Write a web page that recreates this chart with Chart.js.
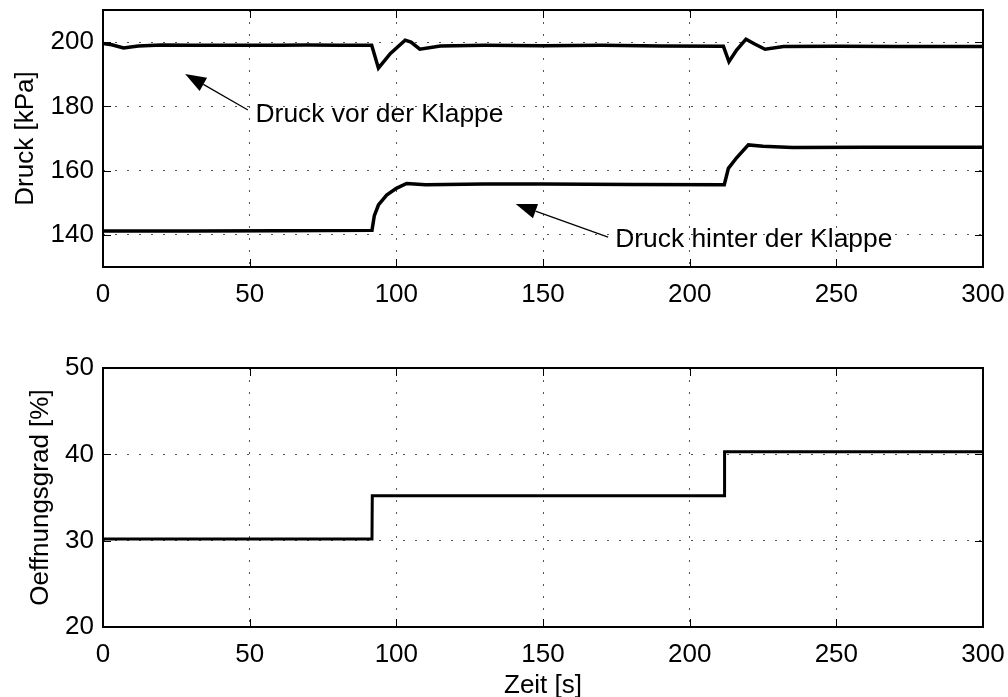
<!DOCTYPE html>
<html>
<head>
<meta charset="utf-8">
<title>Druck und Oeffnungsgrad</title>
<script src="https://cdn.jsdelivr.net/npm/chart.js@4.4.1/dist/chart.umd.min.js"></script>
<style>
  html, body { margin: 0; padding: 0; background: #fff; }
  #wrap { position: relative; width: 1008px; height: 697px; }
  #druck-box { position: absolute; left: 0; top: 0; width: 1008px; height: 320px; }
  #grad-box { position: absolute; left: 0; top: 320px; width: 1008px; height: 377px; }
</style>
</head>
<body>
<div id="wrap">
  <div id="druck-box"><canvas id="druck-chart"></canvas></div>
  <div id="grad-box"><canvas id="grad-chart"></canvas></div>
</div>
<script>
// Messwerte (Zeit in s)
const vorZeit   = [0, 3, 7, 12, 20, 30, 40, 50, 60, 70, 80, 91.6, 93.9, 98, 103, 105, 108, 115, 130, 150, 170, 190, 211.5, 213.4, 216, 219.2, 222, 225.7, 232, 250, 270, 300];
const vorDruck  = [199.6, 199.2, 198.2, 198.8, 199.1, 199, 199, 199, 199, 199.1, 199, 199, 191.9, 196.5, 200.6, 200, 197.8, 198.8, 199, 198.9, 199, 198.8, 198.7, 193.9, 197.5, 200.9, 199.5, 197.8, 198.6, 198.7, 198.6, 198.6];

const hinterZeit  = [0, 30, 60, 91.7, 92.5, 93.9, 96.7, 100, 103.5, 110, 130, 150, 180, 211.8, 213.2, 216, 220, 225, 235, 260, 300];
const hinterDruck = [141.2, 141.2, 141.3, 141.4, 146, 149.3, 152.4, 154.5, 156, 155.6, 155.8, 155.8, 155.7, 155.6, 160.7, 164, 168, 167.6, 167.2, 167.3, 167.3];

const gradZeit = [0, 91.7, 91.8, 211.8, 211.9, 300];
const gradWert = [30.2, 30.2, 35.2, 35.2, 40.3, 40.3];

// Achsenteilung
const zeitTicks  = [0, 50, 100, 150, 200, 250, 300];
const druckTicks = [140, 160, 180, 200];
const gradTicks  = [20, 30, 40, 50];

// Beschriftungen mit Pfeil: Text-Position und Pfeilspitze in Datenkoordinaten
const pfeile = [
  { text: 'Druck vor der Klappe',    textX: 52, textY: 177.3, von: [49.4, 178.9], nach: [28, 190.1] },
  { text: 'Druck hinter der Klappe', textX: 174.6, textY: 138.4, von: [172.2, 139.3], nach: [140.7, 149.6] }
];

const schrift = '"Liberation Sans", Arial, Helvetica, sans-serif';
Chart.defaults.font.family = schrift;
Chart.defaults.font.size = 26;
Chart.defaults.color = '#000';

function punkte(xs, ys) {
  return xs.map((x, i) => ({ x: x, y: ys[i] }));
}

// Rahmen um die Achsen mit Ticks nach innen (oben/unten/links/rechts)
const rahmen = {
  id: 'rahmen',
  afterDatasetsDraw(chart) {
    const { ctx, chartArea: a, scales } = chart;
    const len = 8;
    ctx.save();
    ctx.strokeStyle = '#000';
    ctx.lineWidth = 1;
    ctx.beginPath();
    scales.x.ticks.forEach(t => {
      const px = Math.round(scales.x.getPixelForValue(t.value)) + 0.5;
      ctx.moveTo(px, a.bottom); ctx.lineTo(px, a.bottom - len);
      ctx.moveTo(px, a.top); ctx.lineTo(px, a.top + len);
    });
    scales.y.ticks.forEach(t => {
      const py = Math.round(scales.y.getPixelForValue(t.value)) + 0.5;
      ctx.moveTo(a.left, py); ctx.lineTo(a.left + len, py);
      ctx.moveTo(a.right, py); ctx.lineTo(a.right - len, py);
    });
    ctx.stroke();
    ctx.lineWidth = 2;
    ctx.strokeRect(a.left, a.top, a.right - a.left, a.bottom - a.top);
    ctx.restore();
  }
};

// Textbeschriftungen mit Pfeilen im Druckdiagramm
const beschriftung = {
  id: 'beschriftung',
  afterDatasetsDraw(chart) {
    const { ctx, scales } = chart;
    ctx.save();
    pfeile.forEach(p => {
      const x0 = scales.x.getPixelForValue(p.von[0]);
      const y0 = scales.y.getPixelForValue(p.von[1]);
      const x1 = scales.x.getPixelForValue(p.nach[0]);
      const y1 = scales.y.getPixelForValue(p.nach[1]);
      const w = Math.atan2(y1 - y0, x1 - x0);
      const kopf = 21, breite = 7.5;
      const bx = x1 - kopf * Math.cos(w), by = y1 - kopf * Math.sin(w);
      ctx.strokeStyle = '#000';
      ctx.lineWidth = 1.2;
      ctx.beginPath();
      ctx.moveTo(x0, y0);
      ctx.lineTo(bx, by);
      ctx.stroke();
      ctx.fillStyle = '#000';
      ctx.beginPath();
      ctx.moveTo(x1, y1);
      ctx.lineTo(bx + breite * Math.sin(w), by - breite * Math.cos(w));
      ctx.lineTo(bx - breite * Math.sin(w), by + breite * Math.cos(w));
      ctx.closePath();
      ctx.fill();
      ctx.font = '26.4px ' + schrift;
      ctx.textAlign = 'left';
      ctx.textBaseline = 'middle';
      ctx.fillText(p.text, scales.x.getPixelForValue(p.textX), scales.y.getPixelForValue(p.textY));
    });
    ctx.restore();
  }
};

function xAchse(hoehe, titel) {
  return {
    type: 'linear',
    min: 0,
    max: 300,
    afterBuildTicks: s => { s.ticks = zeitTicks.map(v => ({ value: v })); },
    afterFit: s => { s.height = hoehe; s.paddingLeft = 0; s.paddingRight = 0; },
    ticks: { padding: 12, maxRotation: 0, autoSkip: false },
    grid: { color: '#555', drawTicks: false, lineWidth: 1 },
    border: { display: false, dash: [2, 10] },
    title: titel ? { display: true, text: titel, padding: { top: 0, bottom: -4 } } : { display: false }
  };
}

function yAchse(min, max, werte, titel, abstand) {
  return {
    min: min,
    max: max,
    afterBuildTicks: s => { s.ticks = werte.map(v => ({ value: v })); },
    afterFit: s => { s.width = 103; s.paddingTop = 0; s.paddingBottom = 0; },
    ticks: { padding: 9, autoSkip: false },
    grid: { color: '#555', drawTicks: false, lineWidth: 1 },
    border: { display: false, dash: [2, 10] },
    title: { display: true, text: titel, padding: { top: abstand, bottom: 0 } }
  };
}

new Chart(document.getElementById('druck-chart'), {
  type: 'line',
  data: {
    datasets: [
      { label: 'Druck vor der Klappe', data: punkte(vorZeit, vorDruck), borderColor: '#000', borderWidth: 3.5, pointRadius: 0, tension: 0 },
      { label: 'Druck hinter der Klappe', data: punkte(hinterZeit, hinterDruck), borderColor: '#000', borderWidth: 3.5, pointRadius: 0, tension: 0 }
    ]
  },
  options: {
    responsive: true,
    maintainAspectRatio: false,
    animation: false,
    layout: { padding: { top: 10, right: 25, left: 0, bottom: 0 } },
    plugins: { legend: { display: false }, tooltip: { enabled: false } },
    scales: {
      x: xAchse(53, null),
      y: yAchse(130, 210, druckTicks, 'Druck [kPa]', 10)
    }
  },
  plugins: [rahmen, beschriftung]
});

new Chart(document.getElementById('grad-chart'), {
  type: 'line',
  data: {
    datasets: [
      { label: 'Oeffnungsgrad', data: punkte(gradZeit, gradWert), borderColor: '#000', borderWidth: 3, pointRadius: 0, tension: 0 }
    ]
  },
  options: {
    responsive: true,
    maintainAspectRatio: false,
    animation: false,
    layout: { padding: { top: 48, right: 25, left: 0, bottom: 0 } },
    plugins: { legend: { display: false }, tooltip: { enabled: false } },
    scales: {
      x: xAchse(70, 'Zeit [s]'),
      y: yAchse(20, 50, gradTicks, 'Oeffnungsgrad [%]', 25)
    }
  },
  plugins: [rahmen]
});
</script>
</body>
</html>
